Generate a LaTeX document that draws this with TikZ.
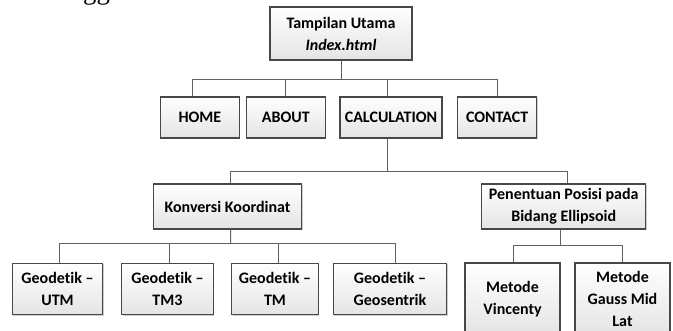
\documentclass[tikz,border=0pt]{standalone}
\usepackage{fontspec}
\setmainfont{Carlito}[Ligatures={NoCommon}]
\newfontfamily\bodyserif{Liberation Serif}
\usepackage{tikz}
\usetikzlibrary{shadows,positioning}
\definecolor{bxline}{RGB}{72,72,72}
\definecolor{bxfill}{RGB}{228,228,228}
\definecolor{cnline}{RGB}{96,96,96}
\newlength\pxu
\setlength\pxu{0.75pt}

\begin{document}
\begin{tikzpicture}[x=0.75pt,y=-0.75pt,
  mbox/.style={draw=bxline,line width=0.8pt,top color=white,bottom color=bxfill,
    drop shadow={shadow xshift=0.8pt,shadow yshift=-0.8pt,fill=black,opacity=0.2},
    align=center,inner sep=0pt,font=\fontsize{12}{16.5}\selectfont\bfseries},
  conn/.style={draw=cnline,line width=0.75pt},
]
  \useasboundingbox (0,0) rectangle (673,331);
  \clip (0,0) rectangle (673,331);
  \node[font=\bodyserif\fontsize{20}{20}\selectfont,anchor=base,inner sep=0pt] (gfrag) at (96.5,-0.5) {gg};

  \node[mbox,minimum width=142\pxu,minimum height=53\pxu] (main) at (341,33.5) {Tampilan Utama\\\textit{Index.html}};

  \node[mbox,minimum width=78.3\pxu,minimum height=41\pxu] (home)    at (199.9,117.5) {HOME};
  \node[mbox,minimum width=78.3\pxu,minimum height=41\pxu] (about)   at (285.9,117.5) {ABOUT};
  \node[mbox,minimum width=102\pxu, minimum height=41\pxu] (calc)    at (391,117.5)   {CALCULATION};
  \node[mbox,minimum width=79\pxu,  minimum height=41\pxu] (contact) at (497.2,117.5) {CONTACT};

  \node[mbox,minimum width=148.4\pxu,minimum height=45\pxu] (konv) at (227.5,206.5) {Konversi Koordinat};
  \node[mbox,minimum width=164\pxu,  minimum height=45\pxu] (pen)  at (563.7,206.5) {Penentuan Posisi pada\\Bidang Ellipsoid};

  \node[mbox,minimum width=90.4\pxu, minimum height=51.7\pxu] (utm) at (57.5,289)  {Geodetik --\\UTM};
  \node[mbox,minimum width=91.6\pxu, minimum height=51.7\pxu] (tm3) at (167.5,289) {Geodetik --\\TM3};
  \node[mbox,minimum width=86.6\pxu, minimum height=51.7\pxu] (tm)  at (275,289)   {Geodetik --\\TM};
  \node[mbox,minimum width=113.4\pxu,minimum height=51.7\pxu] (geo) at (390,289)   {Geodetik --\\Geosentrik};

  \node[mbox,minimum width=95\pxu,minimum height=72\pxu] (vin)   at (512.5,299) {Metode\\Vincenty};
  \node[mbox,minimum width=95\pxu,minimum height=72\pxu] (gauss) at (622.5,299) {Metode\\Gauss Mid\\Lat};

  \coordinate (bus1) at (341,80);
  \coordinate (bus2) at (387,172);
  \coordinate (bus3) at (230.7,243.3);
  \coordinate (bus4) at (560,245);

  \draw[conn] (main.south) -- (bus1);
  \foreach \nd/\dx in {home/-7,about/0,calc/-4,contact/0}
    \draw[conn] ([xshift=\dx\pxu]\nd.north) |- (bus1);

  \draw[conn] ([xshift=-4\pxu]calc.south) -- (bus2);
  \foreach \nd/\dx in {konv/3,pen/3.6}
    \draw[conn] ([xshift=\dx\pxu]\nd.north) |- (bus2);

  \draw[conn] ([xshift=3\pxu]konv.south) -- (bus3);
  \foreach \nd/\dx in {utm/2,tm3/2,tm/3,geo/5}
    \draw[conn] ([xshift=\dx\pxu]\nd.north) |- (bus3);

  \draw[conn] ([xshift=-3.7\pxu]pen.south) -- (bus4);
  \foreach \nd/\dx in {vin/1,gauss/0}
    \draw[conn] ([xshift=\dx\pxu]\nd.north) |- (bus4);
\end{tikzpicture}
\end{document}
